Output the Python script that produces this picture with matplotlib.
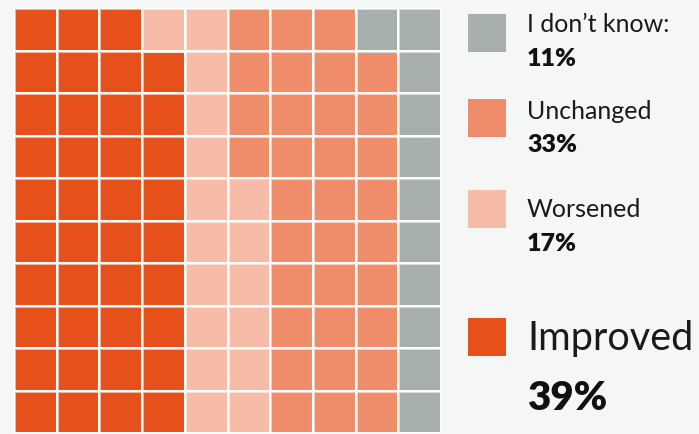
import matplotlib
matplotlib.use("Agg")
import matplotlib.pyplot as plt
from matplotlib.colors import to_rgb
from matplotlib.patches import Rectangle

# Survey answers (percent), in fill order
categories = ["Improved", "Worsened", "Unchanged", "I don\u2019t know:"]
values = [39, 17, 33, 11]
colors = ["#e6511b", "#f7bca8", "#ef8d6b", "#a7afad"]
bg = "#f5f7f6"

W, H = 699, 435
fig = plt.figure(figsize=(W / 100, H / 100), dpi=100, facecolor=bg)

# waffle grid: 10 x 10, filled column by column from the bottom
ax = fig.add_axes([14 / W, 1 / H, 427 / W, 425 / H])
ax.set_xlim(0, 10)
ax.set_ylim(0, 10)
ax.axis("off")

cells = []
for cat, v in enumerate(values):
    cells += [cat] * v
for i, cat in enumerate(cells):
    col, row = divmod(i, 10)
    # soft, lighter rim around each square
    rim = tuple(0.45 * c + 0.55 for c in to_rgb(colors[cat]))
    ax.add_patch(Rectangle((col, row), 1, 1, facecolor=colors[cat],
                           edgecolor=rim, linewidth=2.2))
for k in range(11):
    ax.axvline(k, color="white", lw=1.4)
    ax.axhline(k, color="white", lw=1.4)

# legend drawn in pixel coordinates
lg = fig.add_axes([0, 0, 1, 1])
lg.set_xlim(0, W)
lg.set_ylim(H, 0)
lg.axis("off")
lg.patch.set_alpha(0)

plt.rcParams["font.family"] = ["Lato", "DejaVu Sans"]

# (category, square top, label baseline, value baseline, label size, value size)
entries = [
    (3, 15, 32, 66, 18, 18),
    (2, 100, 119, 152, 18, 18),
    (1, 191, 217, 251, 18, 18),
    (0, 319, 350, 410, 28.5, 29),
]
for cat, top, lab_y, val_y, ls, vs in entries:
    lg.add_patch(Rectangle((468, top), 38, 38, facecolor=colors[cat], edgecolor="none"))
    lg.text(527, lab_y, categories[cat], fontsize=ls, va="baseline", ha="left", color="#1a1a1a")
    lg.text(527, val_y, f"{values[cat]}%", fontsize=vs, fontweight="heavy",
            va="baseline", ha="left", color="#111111")

fig.savefig("out.png", dpi=100, facecolor=bg)
